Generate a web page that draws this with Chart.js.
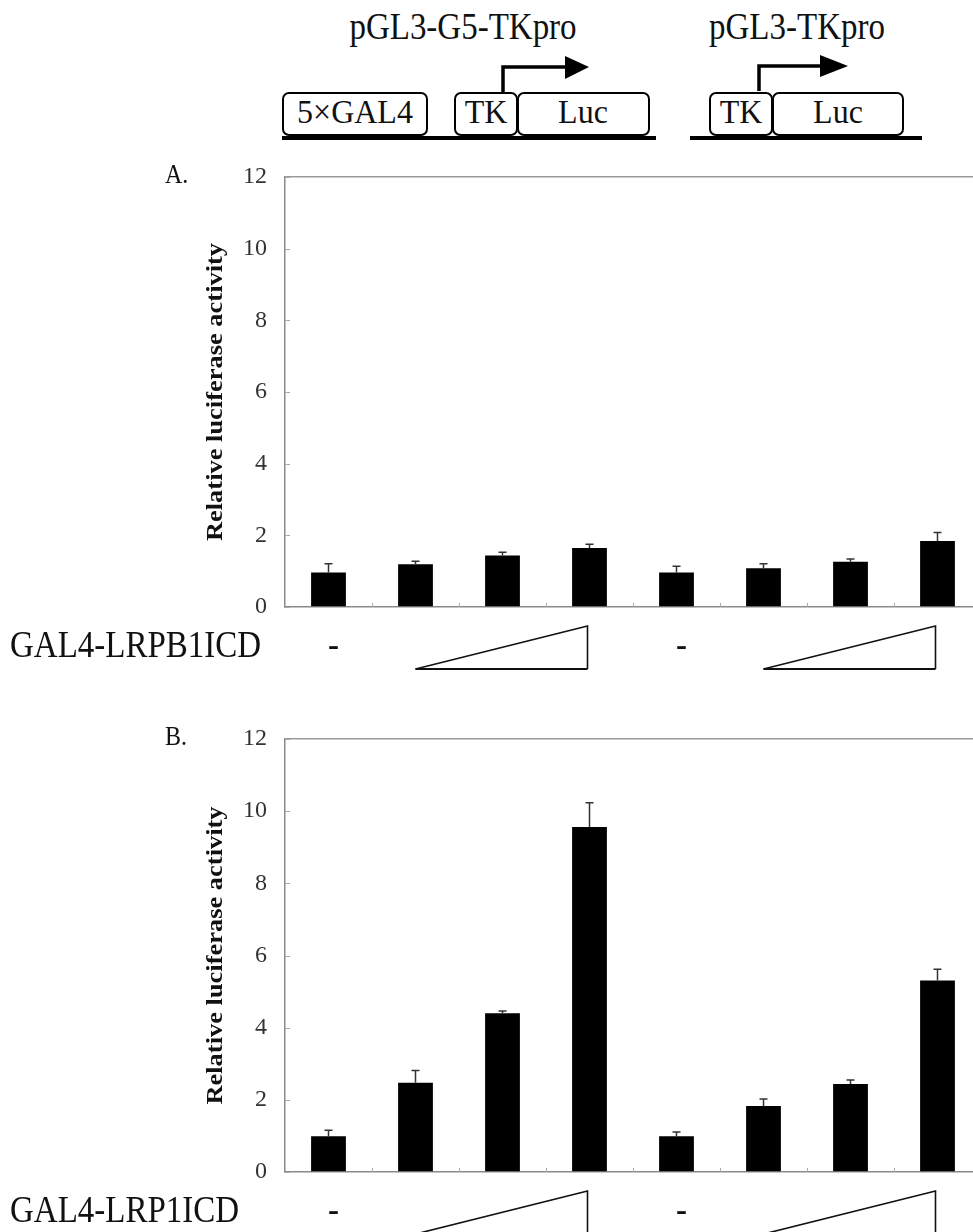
<!DOCTYPE html>
<html>
<head>
<meta charset="utf-8">
<script src="https://cdn.jsdelivr.net/npm/chart.js@4.4.1/dist/chart.umd.min.js"></script>
<style>
  html, body { margin: 0; padding: 0; background: #fff; }
  body { width: 973px; height: 1232px; position: relative; overflow: hidden; }
  #header { position: absolute; left: 0; top: 0; }
  #header text { font-family: 'Liberation Serif', 'Times New Roman', serif; fill: #111; }
  canvas { position: absolute; left: 0; }
  #chartA { top: 150px; }
  #chartB { top: 710px; }
</style>
</head>
<body>

<svg id="header" width="973" height="150">
  <text transform="translate(463,39) scale(1,1.18)" text-anchor="middle" font-size="33">pGL3-G5-TKpro</text>
  <text transform="translate(797,39) scale(1,1.18)" text-anchor="middle" font-size="33">pGL3-TKpro</text>

  <!-- pGL3-G5-TKpro construct -->
  <line x1="282" y1="138" x2="656" y2="138" stroke="#000" stroke-width="4"/>
  <rect x="283" y="93" width="144" height="42" rx="6" fill="#fff" stroke="#000" stroke-width="2"/>
  <rect x="455" y="93" width="62" height="42" rx="6" fill="#fff" stroke="#000" stroke-width="2"/>
  <rect x="518" y="93" width="131" height="42" rx="6" fill="#fff" stroke="#000" stroke-width="2"/>
  <text transform="translate(355,123) scale(1,1.08)" text-anchor="middle" font-size="32">5×GAL4</text>
  <text transform="translate(486,123) scale(1,1.08)" text-anchor="middle" font-size="32">TK</text>
  <text transform="translate(583,123) scale(1,1.08)" text-anchor="middle" font-size="32">Luc</text>
  <polyline points="503,93 503,67 568,67" fill="none" stroke="#000" stroke-width="3.5"/>
  <polygon points="565,56 589,67 565,79" fill="#000"/>

  <!-- pGL3-TKpro construct -->
  <line x1="690" y1="138" x2="922" y2="138" stroke="#000" stroke-width="4"/>
  <rect x="710" y="93" width="62" height="42" rx="6" fill="#fff" stroke="#000" stroke-width="2"/>
  <rect x="773" y="93" width="130" height="42" rx="6" fill="#fff" stroke="#000" stroke-width="2"/>
  <text transform="translate(741,123) scale(1,1.08)" text-anchor="middle" font-size="32">TK</text>
  <text transform="translate(838,123) scale(1,1.08)" text-anchor="middle" font-size="32">Luc</text>
  <polyline points="759,91 759,66 823,66" fill="none" stroke="#000" stroke-width="3.5"/>
  <polygon points="820,55 848,66 820,77" fill="#000"/>
</svg>

<canvas id="chartA" width="990" height="530"></canvas>
<canvas id="chartB" width="990" height="522"></canvas>

<script>
// categories: reporter plasmid / amount of GAL4 fusion
const conditions = ['G5 -', 'G5 +', 'G5 ++', 'G5 +++', 'TK -', 'TK +', 'TK ++', 'TK +++'];

// panel A: GAL4-LRPB1ICD
const valuesA = [0.96, 1.19, 1.44, 1.65, 0.96, 1.08, 1.26, 1.84];
const errorsA = [0.25, 0.09, 0.09, 0.10, 0.18, 0.13, 0.08, 0.24];

// panel B: GAL4-LRP1ICD
const valuesB = [0.99, 2.47, 4.40, 9.56, 0.99, 1.83, 2.44, 5.31];
const errorsB = [0.17, 0.34, 0.06, 0.67, 0.12, 0.19, 0.11, 0.31];

const yTicks = [0, 2, 4, 6, 8, 10, 12];

const SERIF = "'Liberation Serif', 'Times New Roman', serif";

const stretchText = (ctx, text, x, y, font, sy, align) => {
    ctx.save();
    ctx.font = font;
    ctx.textAlign = align || 'left';
    ctx.textBaseline = 'alphabetic';
    ctx.translate(x, y);
    ctx.scale(1, sy);
    ctx.fillText(text, 0, 0);
    ctx.restore();
};

// error bars, inward ticks, axis title, panel letter and dose wedges
const panelDecor = {
    id: 'panelDecor',
    afterDatasetsDraw(chart, args, opts) {
        const ctx = chart.ctx;
        const y = chart.scales.y;
        const meta = chart.getDatasetMeta(0);
        const values = chart.data.datasets[0].data;

        // error bars (upper only)
        ctx.save();
        ctx.strokeStyle = '#333';
        ctx.lineWidth = 1.5;
        meta.data.forEach((bar, i) => {
            const top = y.getPixelForValue(values[i] + opts.errors[i]);
            ctx.beginPath();
            ctx.moveTo(bar.x, bar.y);
            ctx.lineTo(bar.x, top);
            ctx.moveTo(bar.x - 4, top);
            ctx.lineTo(bar.x + 4, top);
            ctx.stroke();
        });
        ctx.restore();
    },
    afterDraw(chart, args, opts) {
        const ctx = chart.ctx;
        const area = chart.chartArea;
        const x = chart.scales.x, y = chart.scales.y;

        // small inward ticks
        ctx.save();
        ctx.strokeStyle = '#aaa';
        ctx.lineWidth = 1;
        yTicks.forEach(v => {
            const py = Math.round(y.getPixelForValue(v)) + 0.5;
            ctx.beginPath();
            ctx.moveTo(area.left, py);
            ctx.lineTo(area.left + 5, py);
            ctx.stroke();
        });
        for (let i = 0; i < conditions.length; i++) {
            const px = Math.round((x.getPixelForValue(i) + x.getPixelForValue(i + 1)) / 2) + 0.5;
            ctx.beginPath();
            ctx.moveTo(px, area.bottom);
            ctx.lineTo(px, area.bottom - 4);
            ctx.stroke();
        }
        ctx.restore();

        ctx.fillStyle = '#111';

        // y axis title
        ctx.save();
        ctx.translate(222, (area.top + area.bottom) / 2);
        ctx.rotate(-Math.PI / 2);
        ctx.scale(1.15, 1);
        ctx.font = 'bold 23px ' + SERIF;
        ctx.textAlign = 'center';
        ctx.textBaseline = 'alphabetic';
        ctx.fillText('Relative luciferase activity', 0, 0);
        ctx.restore();

        // panel letter
        stretchText(ctx, opts.letter, 165, area.top + 6, '24px ' + SERIF, 1.15, 'left');

        // row label and dose marks
        const rowY = area.bottom + 50;
        stretchText(ctx, opts.rowLabel, 10, rowY, '33px ' + SERIF, 1.15, 'left');
        [0, 4].forEach(i => {
            stretchText(ctx, '-', x.getPixelForValue(i) + 5, rowY, '33px ' + SERIF, 1.15, 'center');
        });

        ctx.save();
        ctx.strokeStyle = '#111';
        [[1, 3], [5, 7]].forEach(([a, b]) => {
            const x1 = x.getPixelForValue(a);
            const x2 = x.getPixelForValue(b) - 2;
            const yb = area.bottom + 62, yt = area.bottom + 19;
            ctx.lineWidth = 1.6;
            ctx.beginPath();
            ctx.moveTo(x1, yb);
            ctx.lineTo(x2, yt);
            ctx.lineTo(x2, yb);
            ctx.stroke();
            ctx.lineWidth = 2.2;
            ctx.beginPath();
            ctx.moveTo(x1, yb);
            ctx.lineTo(x2, yb);
            ctx.stroke();
        });
        ctx.restore();
    }
};

const makeChart = (id, values, errors, letter, rowLabel, padTop, padBottom) => {
    return new Chart(document.getElementById(id), {
        type: 'bar',
        data: {
            labels: conditions,
            datasets: [{
                data: values,
                backgroundColor: '#000',
                borderWidth: 0,
                barPercentage: 0.4,
                categoryPercentage: 1
            }]
        },
        options: {
            responsive: false,
            animation: false,
            events: [],
            layout: { padding: { left: 0, right: 9, top: padTop, bottom: padBottom } },
            plugins: {
                legend: { display: false },
                tooltip: { enabled: false },
                panelDecor: { errors: errors, letter: letter, rowLabel: rowLabel }
            },
            scales: {
                x: {
                    ticks: { display: false },
                    grid: { display: false, drawTicks: false },
                    border: { display: true, color: '#8a8a8a', width: 1.5 },
                    afterFit: scale => { scale.height = 0; }
                },
                y: {
                    min: 0,
                    max: 12,
                    ticks: {
                        stepSize: 2,
                        padding: 18,
                        color: '#333',
                        font: { family: SERIF, size: 24 }
                    },
                    grid: {
                        drawTicks: false,
                        color: c => c.tick && c.tick.value === 12 ? '#999' : 'rgba(0,0,0,0)',
                        lineWidth: 1.5
                    },
                    border: { display: true, color: '#8a8a8a', width: 1.5 },
                    // fixed width, and no extra room reserved for the end labels
                    afterFit: scale => {
                        scale.width = 285;
                        scale.paddingTop = 0;
                        scale.paddingBottom = 0;
                    }
                }
            }
        },
        plugins: [panelDecor]
    });
};

makeChart('chartA', valuesA, errorsA, 'A.', 'GAL4-LRPB1ICD', 27, 73);
makeChart('chartB', valuesB, errorsB, 'B.', 'GAL4-LRP1ICD', 29, 60);
</script>
</body>
</html>
